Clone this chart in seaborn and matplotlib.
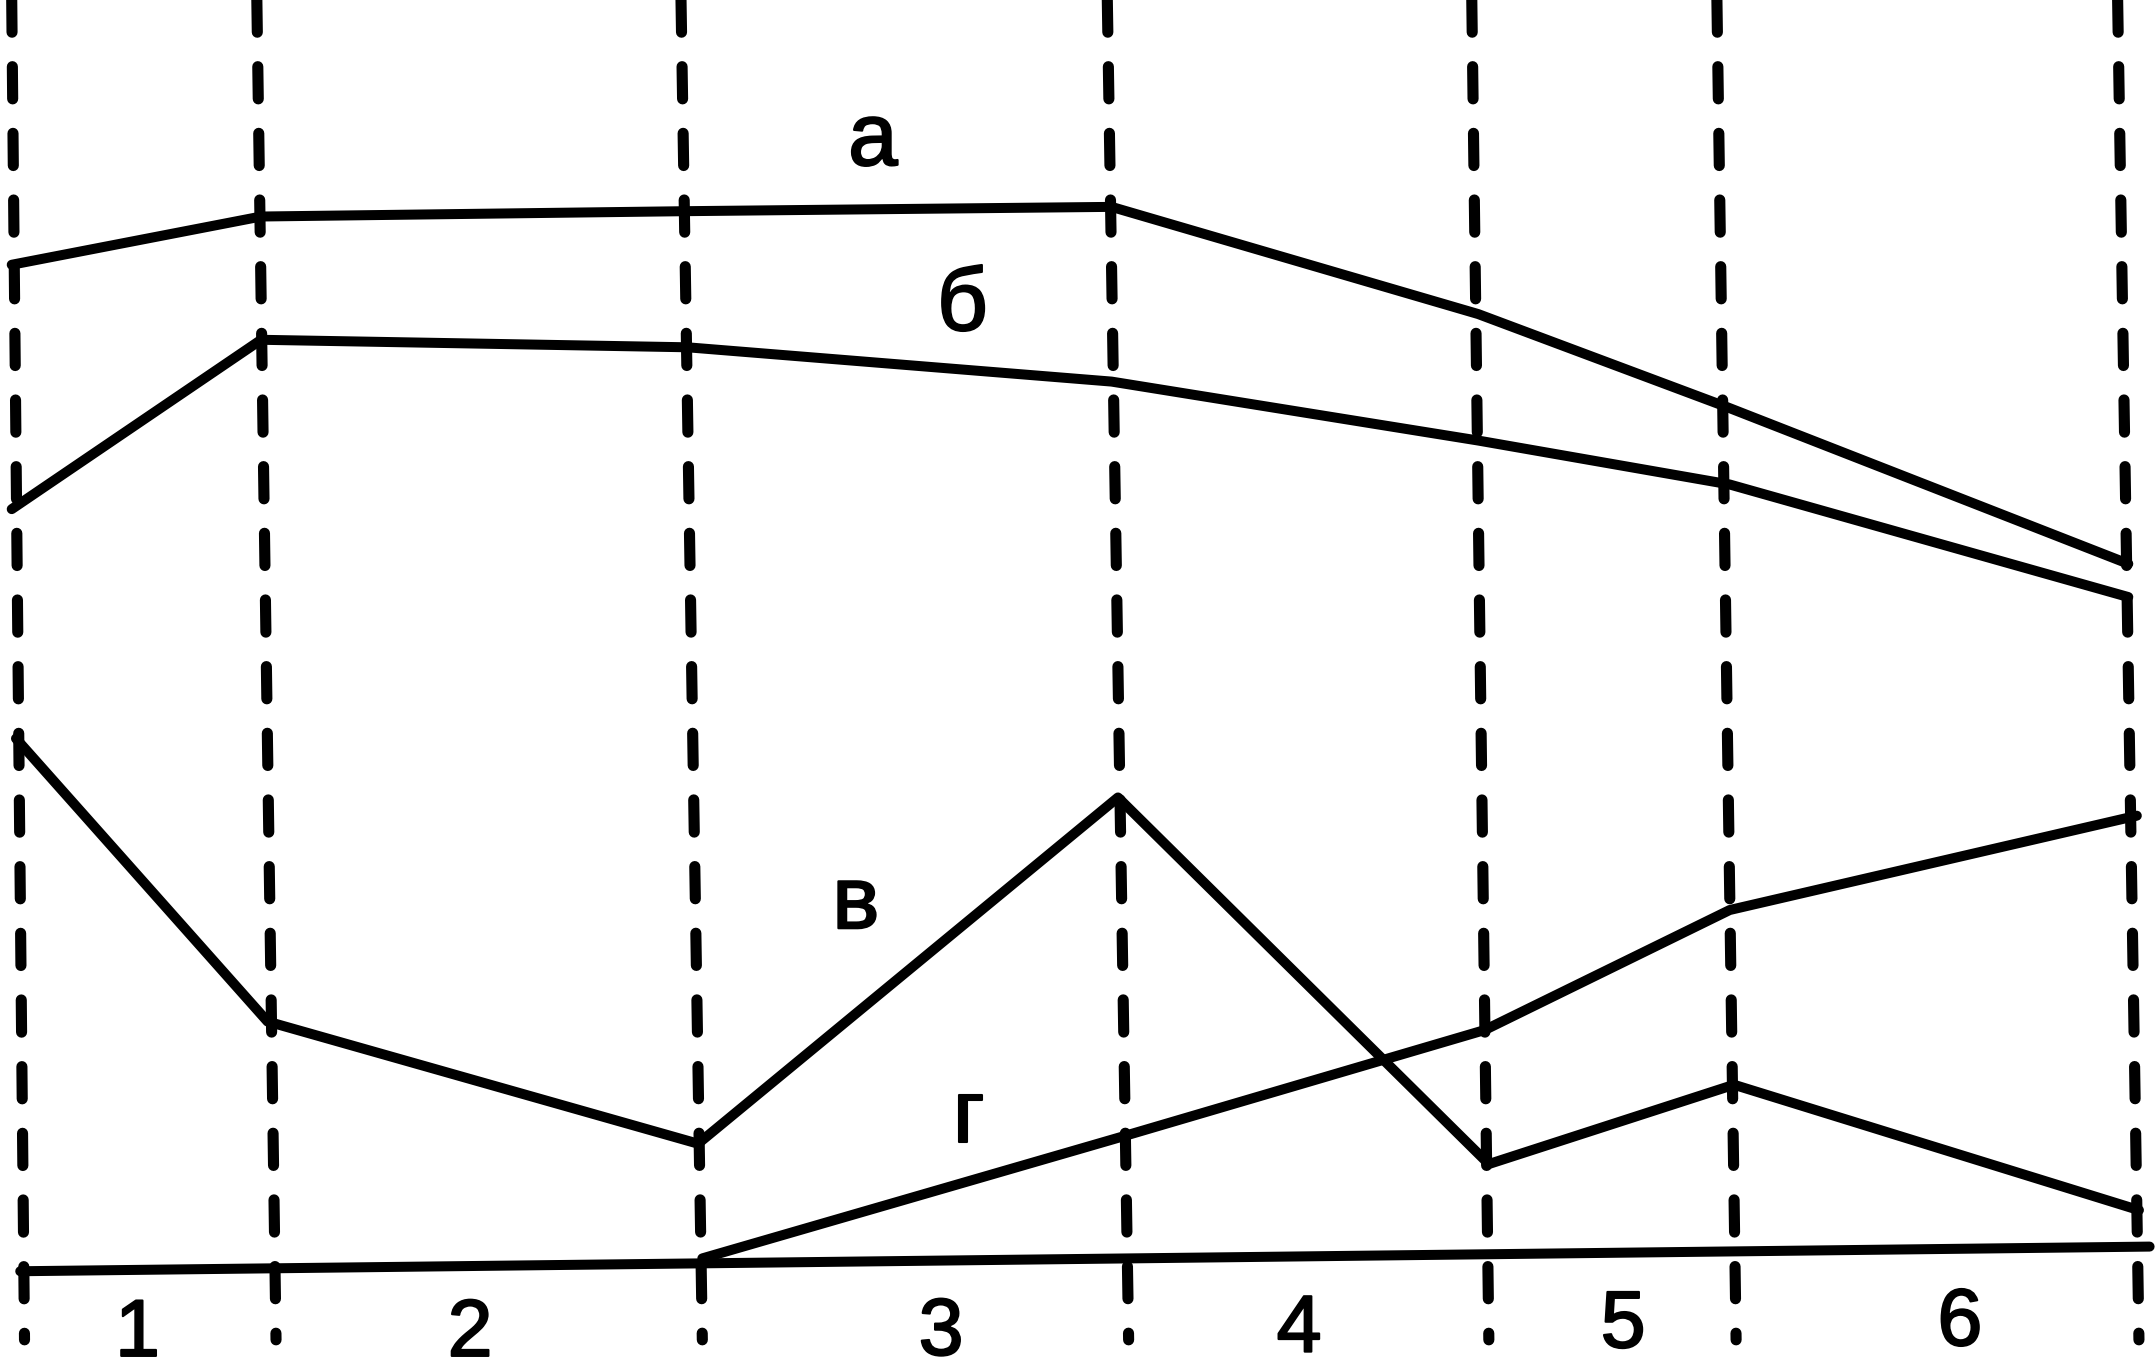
import numpy as np
import pandas as pd
import seaborn as sns
import matplotlib.pyplot as plt
import matplotlib.patheffects as pe

# Stage boundaries (x at top and at bottom of the sheet; the scan is slightly tilted).
bound_top = [-0.1, 11.4, 31.3, 51.3, 68.4, 79.9, 98.7]
bound_bottom = [0.5, 12.3, 32.3, 52.3, 69.2, 80.8, 99.7]
bound_y = [118.0, -7.0]

# Curves а, б, в, г.
a_x = [-0.1, 11.6, 31.6, 51.5, 68.7, 80.4, 99.2]
a_y = [93.3, 97.8, 98.3, 98.7, 88.7, 80.0, 65.4]
b_x = [-0.1, 11.6, 31.6, 51.5, 68.7, 80.5, 99.2]
b_y = [70.5, 86.3, 85.6, 82.4, 76.9, 72.8, 62.3]
v_x = [0.1, 11.9, 32.1, 51.8, 69.2, 80.7, 99.7]
v_y = [49.1, 22.7, 11.3, 43.6, 9.4, 16.8, 5.1]
g_x = [32.3, 51.9, 69.0, 80.5, 99.6]
g_y = [0.6, 11.9, 21.9, 33.1, 41.9]

# Baseline (time axis).
base_x = [0.3, 100.2]
base_y = [-0.6, 1.7]

curve_labels = ['а', 'б', 'в', 'г']
curve_label_x = [40.3, 44.5, 39.5, 44.8]
curve_label_y = [102.6, 87.2, 31.4, 11.5]

stage_labels = ['1', '2', '3', '4', '5', '6']
stage_label_x = [5.8, 21.4, 43.5, 60.3, 75.5, 91.3]
stage_label_y = [-8.5, -8.5, -8.4, -8.1, -7.7, -7.5]

sns.set_style('white')
plt.rcParams['font.family'] = ['Liberation Sans', 'DejaVu Sans']

fig = plt.figure(figsize=(21.56, 13.72), dpi=100)
ax = fig.add_axes([0, 0, 1, 1])

lw = 7.2

# Dashed stage boundaries.
for xt, xb in zip(bound_top, bound_bottom):
    ax.plot([xt, xb], bound_y, color='black', linewidth=8.0,
            dashes=(2.9, 3.1), dash_capstyle='round')

# Curves.
curves = pd.concat([
    pd.DataFrame({'x': a_x, 'y': a_y, 'curve': 'а'}),
    pd.DataFrame({'x': b_x, 'y': b_y, 'curve': 'б'}),
    pd.DataFrame({'x': v_x, 'y': v_y, 'curve': 'в'}),
    pd.DataFrame({'x': g_x, 'y': g_y, 'curve': 'г'}),
    pd.DataFrame({'x': base_x, 'y': base_y, 'curve': 'base'}),
])
sns.lineplot(
    data=curves,
    x='x',
    y='y',
    units='curve',
    estimator=None,
    sort=False,
    color='black',
    linewidth=lw,
    ax=ax,
    legend=False,
)
for line in ax.get_lines()[len(bound_top):]:
    line.set_linewidth(lw)
    line.set_solid_capstyle('round')

thick = [pe.withStroke(linewidth=1.5, foreground='black')]
for t, x, y in zip(curve_labels, curve_label_x, curve_label_y):
    ax.text(x, y, t, fontsize=64, ha='center', va='baseline',
            color='black', path_effects=thick)
for t, x, y in zip(stage_labels, stage_label_x, stage_label_y):
    ax.text(x, y, t, fontsize=58, ha='center', va='baseline',
            color='black', path_effects=thick)

ax.set_xlim(-0.65, 100.5)
ax.set_ylim(-10.0, 118.0)
ax.set_axis_off()

fig.savefig('out.png', dpi=100)
